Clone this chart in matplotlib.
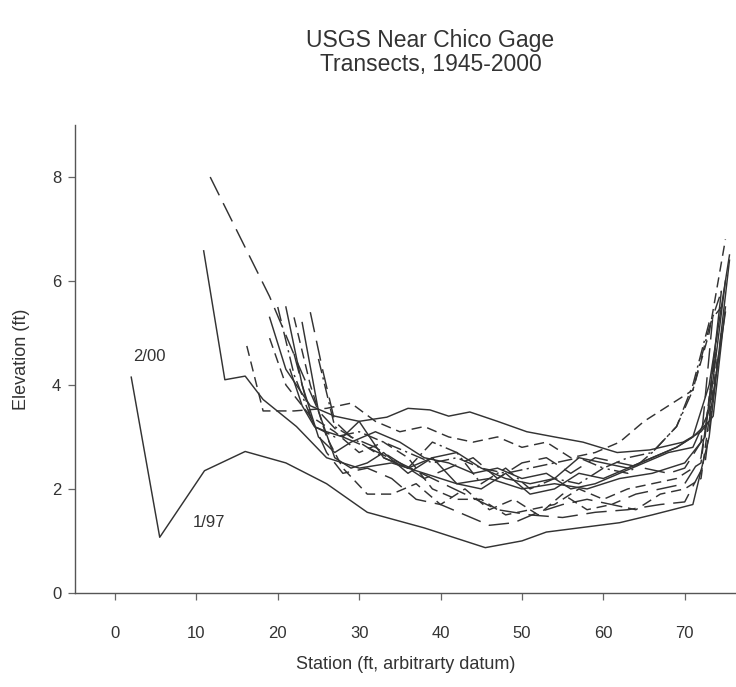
import matplotlib
matplotlib.use("Agg")
import matplotlib.pyplot as plt

plt.rcParams['font.family'] = ['Liberation Sans', 'DejaVu Sans']

# ---- data ----
x_t01 = [2, 5.5, 11, 16, 21, 26, 31, 38, 45.5, 50, 53, 58, 62, 66, 71, 73, 75.5]
y_t01 = [4.15, 1.07, 2.35, 2.72, 2.5, 2.1, 1.55, 1.25, 0.87, 1.0, 1.17, 1.27, 1.35, 1.5, 1.7, 3.0, 6.4]

x_t02 = [11.7, 19, 22.5, 25, 28, 31, 35, 39, 43, 47, 51, 55, 59, 63, 67, 70, 72.5, 74.5]
y_t02 = [8.0, 5.7, 4.4, 3.5, 3.0, 2.8, 2.5, 2.2, 1.9, 1.6, 1.5, 1.45, 1.55, 1.6, 1.7, 1.75, 2.5, 5.0]

x_t03 = [10.9, 13.5, 16, 18.2, 22.3, 26, 30, 34, 38, 42, 46, 50, 54, 58, 62, 66, 70, 72.5, 74.5]
y_t03 = [6.58, 4.1, 4.17, 3.72, 3.2, 2.6, 2.4, 2.5, 2.3, 2.1, 2.2, 2.0, 2.1, 2.0, 2.2, 2.3, 2.5, 3.0, 5.8]

x_t04 = [16.2, 18.2, 22, 26, 29, 32, 35, 38, 41, 44, 47, 50, 53, 56, 59, 62, 65, 68, 71, 73, 75]
y_t04 = [4.75, 3.5, 3.5, 3.55, 3.65, 3.3, 3.1, 3.2, 3.0, 2.9, 3.0, 2.8, 2.9, 2.6, 2.7, 2.9, 3.3, 3.6, 3.9, 5.0, 6.8]

x_t05 = [19, 21, 24, 27, 30, 33.4, 36, 38.7, 41, 43.6, 47, 50.6, 54, 57.5, 61.7, 65.7, 69.8, 72, 73.5, 75]
y_t05 = [5.3, 4.3, 3.6, 3.4, 3.3, 3.38, 3.55, 3.52, 3.4, 3.48, 3.3, 3.1, 3.0, 2.9, 2.7, 2.75, 2.9, 3.1, 3.4, 5.5]

x_t06 = [20, 22, 24.5, 27, 30, 33, 36, 39, 42, 45, 48, 51, 54, 57, 60, 63, 66, 69, 71, 73, 74.5]
y_t06 = [5.5, 4.2, 3.2, 3.0, 3.1, 2.9, 2.7, 2.5, 2.6, 2.4, 2.3, 2.4, 2.5, 2.6, 2.4, 2.6, 2.7, 3.2, 4.0, 5.2, 5.5]

x_t07 = [21, 23, 25, 27, 29, 32, 35, 38, 41, 44, 47, 50, 53, 56, 59, 62, 65, 68, 71, 73, 75]
y_t07 = [5.5, 4.0, 3.0, 2.7, 2.9, 3.1, 2.9, 2.6, 2.5, 2.3, 2.4, 2.2, 2.3, 2.0, 2.1, 2.3, 2.5, 2.7, 2.8, 3.5, 6.0]

x_t08 = [22, 24, 26, 28, 31, 34, 37, 40, 43, 46, 49, 52, 55, 58, 61, 64, 67, 70, 72, 74]
y_t08 = [5.3, 4.0, 3.0, 2.4, 1.9, 1.9, 2.1, 1.7, 2.0, 1.6, 1.8, 1.5, 1.9, 1.6, 1.7, 1.6, 1.9, 2.0, 2.2, 4.5]

x_t09 = [23, 25, 27, 29, 31, 33, 36, 39, 42, 45, 48, 51, 54, 57, 60, 63, 66, 69, 71, 73, 75.5]
y_t09 = [5.2, 3.5, 2.6, 2.4, 2.5, 2.7, 2.3, 2.6, 2.1, 2.0, 2.3, 1.9, 2.0, 2.3, 2.2, 2.4, 2.6, 2.8, 3.0, 4.0, 6.5]

x_t10 = [24, 25.5, 27, 29, 32, 35, 38, 41, 44, 47, 50, 53, 56, 59, 62, 65, 68, 70, 72, 73.5]
y_t10 = [5.4, 4.3, 3.3, 3.0, 2.8, 2.5, 2.2, 2.4, 2.6, 2.2, 2.5, 2.6, 2.3, 2.6, 2.5, 2.4, 2.3, 2.4, 2.9, 5.4]

x_t11 = [21.5, 23, 24.5, 26, 28, 30, 33, 36, 39, 42, 45, 48, 51, 54, 57, 60, 63, 66, 69, 71, 73, 75]
y_t11 = [4.3, 3.6, 3.2, 3.1, 3.0, 3.3, 2.6, 2.4, 2.6, 2.7, 2.4, 2.2, 2.1, 2.2, 2.6, 2.5, 2.4, 2.6, 2.8, 3.0, 3.3, 5.4]

x_t12 = [19, 21, 24, 27, 30, 33, 36, 39, 42, 45, 48, 51, 54, 57, 60, 63, 66, 69, 72, 74]
y_t12 = [4.9, 4.0, 3.4, 3.1, 2.7, 2.9, 2.6, 2.0, 1.8, 1.8, 1.5, 1.6, 1.7, 2.0, 1.8, 2.0, 2.1, 2.2, 2.5, 5.0]

x_t13 = [25, 27, 30, 33, 36, 39, 42, 45, 48, 51, 54, 57, 60, 63, 66, 69, 71, 73, 74.5]
y_t13 = [4.5, 3.2, 2.9, 2.6, 2.4, 2.9, 2.7, 2.1, 2.4, 2.0, 2.2, 2.1, 2.4, 2.3, 2.7, 3.2, 3.9, 5.1, 5.8]

x_t14 = [22, 24, 26, 28, 31, 34, 37, 40, 43, 46, 49, 52, 55, 58, 61, 64, 67, 70, 72, 74]
y_t14 = [4.6, 3.4, 2.7, 2.3, 2.4, 2.2, 1.8, 1.7, 1.5, 1.3, 1.35, 1.55, 1.7, 1.8, 1.7, 1.9, 2.0, 2.1, 2.6, 4.8]

x_ticks = [0, 10, 20, 30, 40, 50, 60, 70]
y_ticks = [0, 2, 4, 6, 8]

title_text = "USGS Near Chico Gage\nTransects, 1945-2000"
x_label = "Station (ft, arbitrarty datum)"
y_label = "Elevation (ft)"
label_2_00 = "2/00"
label_1_97 = "1/97"

# ---- styles ----
solid = '-'
dash = (0, (7, 4))
longdash = (0, (14, 6))
dashdot = (0, (10, 3, 1.5, 3))

series = [
    (x_t01, y_t01, solid),
    (x_t02, y_t02, longdash),
    (x_t03, y_t03, solid),
    (x_t04, y_t04, dash),
    (x_t05, y_t05, solid),
    (x_t06, y_t06, dashdot),
    (x_t07, y_t07, solid),
    (x_t08, y_t08, dash),
    (x_t09, y_t09, solid),
    (x_t10, y_t10, longdash),
    (x_t11, y_t11, solid),
    (x_t12, y_t12, dash),
    (x_t13, y_t13, dashdot),
    (x_t14, y_t14, longdash),
]

fig = plt.figure(figsize=(7.36, 6.87), dpi=100)
ax = fig.add_axes([0.102, 0.137, 0.898, 0.681])

line_color = '#333333'
for xs, ys, ls in series:
    ax.plot(xs, ys, color=line_color, linestyle=ls, linewidth=1.05)

ax.set_xlim(-4.9, 76.3)
ax.set_ylim(0, 9)
ax.set_xticks(x_ticks)
ax.set_yticks(y_ticks)

for s in ['top', 'right']:
    ax.spines[s].set_visible(False)
for s in ['left', 'bottom']:
    ax.spines[s].set_color('#555555')
    ax.spines[s].set_linewidth(1.0)

ax.tick_params(direction='out', length=5, width=0.9, color='#666666',
               labelsize=12, labelcolor='#333333')
ax.tick_params(axis='x', pad=19)
ax.tick_params(axis='y', pad=5)

ax.set_xlabel(x_label, fontsize=13, color='#333333', labelpad=11)
ax.set_ylabel(y_label, fontsize=13, color='#333333', labelpad=16)

ax.text(4.2, 4.55, label_2_00, fontsize=12, color='#333333', ha='center', va='center')
ax.text(11.6, 1.35, label_1_97, fontsize=12, color='#333333', ha='center', va='center')

fig.text(0.585, 0.924, title_text, fontsize=16.5, color='#333333',
         ha='center', va='center', linespacing=1.05)

fig.savefig("out.png", dpi=100)
